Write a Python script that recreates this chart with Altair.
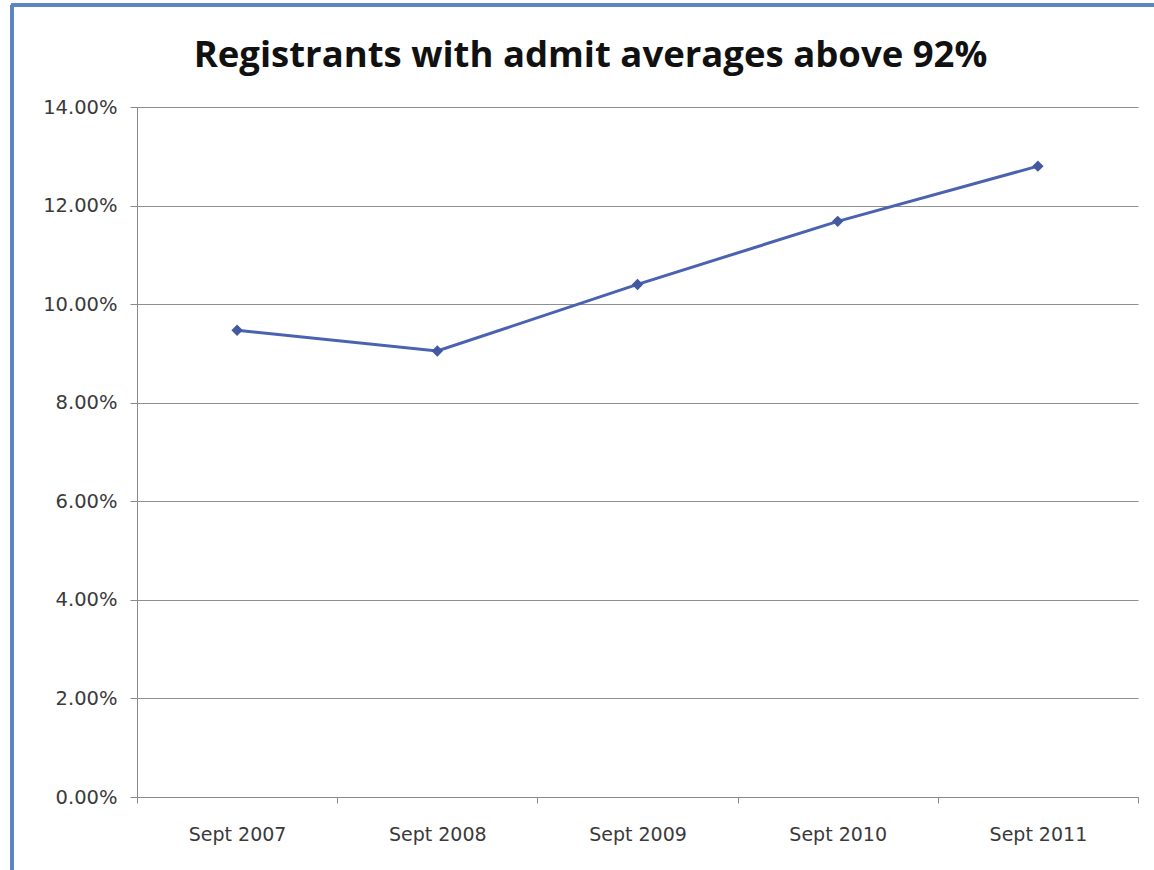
import altair as alt
import pandas as pd

# Share of registrants with admit averages above 92%, by intake
intakes = ["Sept 2007", "Sept 2008", "Sept 2009", "Sept 2010", "Sept 2011"]
shares = [0.0947, 0.0905, 0.1040, 0.1168, 0.1280]

df = pd.DataFrame({"intake": intakes, "share": shares})

FONT = "DejaVu Sans"
TITLE_FONT = "Open Sans"
LINE_BLUE = "#4A62B0"
FRAME_BLUE = "#5B84C4"

x_enc = alt.X(
    "intake:N",
    sort=intakes,
    title=None,
    scale=alt.Scale(paddingInner=0, paddingOuter=0),
    axis=alt.Axis(
        labelAngle=0,
        labelFont=FONT,
        labelFontSize=19,
        labelColor="#3a3a3a",
        labelPadding=22,
        tickBand="extent",
        tickSize=6,
        tickColor="#8a8a8a",
        domainColor="#8a8a8a",
        grid=False,
    ),
)
y_enc = alt.Y(
    "share:Q",
    title=None,
    scale=alt.Scale(domain=[0, 0.14], nice=False),
    axis=alt.Axis(
        values=[0, 0.02, 0.04, 0.06, 0.08, 0.10, 0.12, 0.14],
        format=".2%",
        labelFont=FONT,
        labelFontSize=19.5,
        labelColor="#3a3a3a",
        labelPadding=13,
        tickSize=7,
        tickColor="#8a8a8a",
        domainColor="#8a8a8a",
        gridColor="#8f8f8f",
        gridWidth=1.2,
    ),
)

line = alt.Chart(df).mark_line(color=LINE_BLUE, strokeWidth=3).encode(x=x_enc, y=y_enc)
points = alt.Chart(df).mark_point(
    shape="diamond", filled=True, size=130, color="#44589F", opacity=1
).encode(x="intake:N", y="share:Q")

# Blue chart-area frame along the left and top edges
frame_left = alt.Chart(df).mark_rule(color=FRAME_BLUE, strokeWidth=3).encode(
    x=alt.value(-125), y=alt.value(-102), y2=alt.value(780)
)
frame_top = alt.Chart(df).mark_rule(color=FRAME_BLUE, strokeWidth=3).encode(
    x=alt.value(-126), x2=alt.value(1030), y=alt.value(-102)
)

chart = (
    alt.layer(frame_left, frame_top, line, points)
    .properties(
        width=1001,
        height=690,
        autosize=alt.AutoSizeParams(type="none"),
        padding={"left": 137, "top": 107, "right": 16, "bottom": 73},
        background="white",
        title=alt.TitleParams(
            "Registrants with admit averages above 92%",
            font=TITLE_FONT,
            fontSize=36.5,
            fontWeight="bold",
            color="#111111",
            anchor="middle",
            frame="group",
            baseline="alphabetic",
            dx=-47,
            offset=-100,
        ),
    )
    .configure_view(stroke=None)
)

chart.save("out.html", embed_options={"renderer": "svg", "actions": False})
